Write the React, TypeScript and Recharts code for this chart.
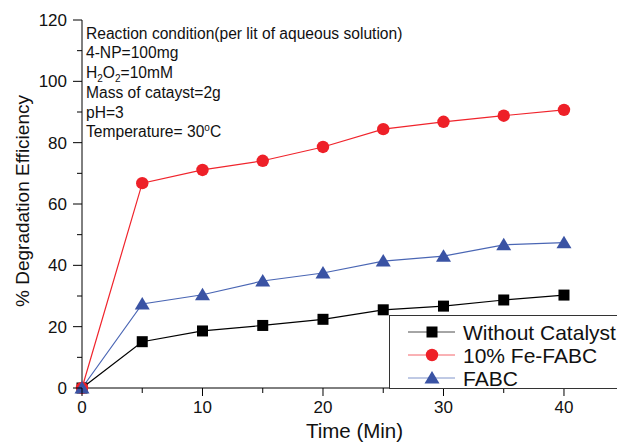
import { LineChart, Line, XAxis, YAxis, Legend, Customized } from 'recharts';

const FONT = '"Liberation Sans", Arial, sans-serif';

// time in minutes
const times = [0, 5, 10, 15, 20, 25, 30, 35, 40];
const withoutCatalyst = [0, 15.1, 18.6, 20.4, 22.4, 25.5, 26.7, 28.7, 30.3];
const feFabc = [0, 66.8, 71.1, 74.1, 78.6, 84.4, 86.8, 88.8, 90.7];
const fabc = [0, 27.4, 30.4, 34.9, 37.5, 41.4, 43.0, 46.7, 47.4];

const xTicks = [0, 5, 10, 15, 20, 25, 30, 35, 40];
const yTicks = [0, 10, 20, 30, 40, 50, 60, 70, 80, 90, 100, 110, 120];

const series = [
  { key: 'noCat', name: 'Without Catalyst', line: '#000000', fill: '#000000', shape: 'square' },
  { key: 'fe', name: '10% Fe-FABC', line: '#f0242c', fill: '#ee2028', shape: 'circle' },
  { key: 'fabc', name: 'FABC', line: '#4a66b4', fill: '#3a53a4', shape: 'triangle' },
];

const data = times.map((t, i) => ({
  time: t,
  noCat: withoutCatalyst[i],
  fe: feFabc[i],
  fabc: fabc[i],
}));

function Marker({ shape, cx, cy, fill }: any) {
  if (shape === 'square') {
    return <rect x={cx - 5.5} y={cy - 5.5} width={11} height={11} fill={fill} />;
  }
  if (shape === 'circle') {
    return <circle cx={cx} cy={cy} r={6.2} fill={fill} />;
  }
  return (
    <polygon
      points={`${cx},${cy - 7} ${cx - 7.5},${cy + 5.5} ${cx + 7.5},${cy + 5.5}`}
      fill={fill}
    />
  );
}

const BottomTick = ({ x, y, payload }: any) => {
  const major = payload.value % 10 === 0;
  return (
    <g>
      <line x1={x} x2={x} y1={y} y2={y + (major ? 8 : 5)} stroke="#000" />
      {major && (
        <text x={x} y={y + 25} textAnchor="middle" fontSize={17} fontFamily={FONT} fill="#111">
          {payload.value}
        </text>
      )}
    </g>
  );
};

const TopTick = ({ x, y }: any) => (
  <line x1={x} x2={x} y1={y} y2={y + 6} stroke="#000" />
);

const LeftTick = ({ x, y, payload }: any) => {
  const major = payload.value % 20 === 0;
  return (
    <g>
      <line x1={x - (major ? 9 : 5)} x2={x} y1={y} y2={y} stroke="#000" />
      {major && (
        <text x={x - 15} y={y} dy="0.36em" textAnchor="end" fontSize={17} fontFamily={FONT} fill="#111">
          {payload.value}
        </text>
      )}
    </g>
  );
};

const Notes = () => (
  <g fontFamily={FONT} fontSize={15.6} fill="#111">
    <text x={86} y={38.5}>Reaction condition(per lit of aqueous solution)</text>
    <text x={86} y={58}>4-NP=100mg</text>
    <text x={86} y={78}>
      H<tspan fontSize={10} dy={4}>2</tspan>
      <tspan dy={-4}>O</tspan>
      <tspan fontSize={10} dy={4}>2</tspan>
      <tspan dy={-4}>=10mM</tspan>
    </text>
    <text x={86} y={98}>Mass of catayst=2g</text>
    <text x={86} y={117.5}>pH=3</text>
    <text x={86} y={137}>
      Temperature= 30<tspan fontSize={10} dy={-6}>o</tspan>
      <tspan dy={6}>C</tspan>
    </text>
  </g>
);

const LegendBox = () => (
  <svg width={240} height={74} style={{ display: 'block', overflow: 'visible' }}>
    <rect x={0.5} y={0.5} width={260} height={73} fill="#fff" stroke="#333" />
    {series.map((s, i) => {
      const cy = 17 + i * 23;
      return (
        <g key={s.key}>
          <line x1={19} x2={66} y1={cy} y2={cy} stroke={s.line} strokeOpacity={0.7} />
          <Marker shape={s.shape} cx={43} cy={cy} fill={s.fill} />
          <text x={74} y={cy} dy="0.36em" fontSize={21} fontFamily={FONT} fill="#111">
            {s.name}
          </text>
        </g>
      );
    })}
  </svg>
);

export default function App() {
  return (
    <div
      style={{
        position: 'absolute',
        left: 0,
        top: 0,
        width: 617,
        height: 442,
        overflow: 'hidden',
        background: '#fff',
      }}
    >
      <LineChart
        width={617}
        height={442}
        data={data}
        margin={{ top: 20, right: 0, left: 0, bottom: 0 }}
      >
        <XAxis
          dataKey="time"
          type="number"
          domain={[0, 44.4]}
          ticks={xTicks}
          interval={0}
          height={54}
          tickSize={0}
          tickMargin={0}
          tickLine={false}
          tick={BottomTick}
          axisLine={{ stroke: '#000' }}
          label={({ viewBox }: any) => (
            <text
              x={viewBox.x + viewBox.width / 2 + 5}
              y={viewBox.y + 49.5}
              textAnchor="middle"
              fontSize={20.5}
              fontFamily={FONT}
              fill="#111"
            >
              Time (Min)
            </text>
          )}
        />
        <XAxis
          xAxisId="top"
          orientation="top"
          dataKey="time"
          type="number"
          domain={[0, 44.4]}
          ticks={xTicks}
          interval={0}
          height={0}
          tickSize={0}
          tickMargin={0}
          tickLine={false}
          tick={TopTick}
          axisLine={{ stroke: '#000' }}
        />
        <YAxis
          type="number"
          domain={[0, 120]}
          ticks={yTicks}
          interval={0}
          width={82}
          tickSize={0}
          tickMargin={0}
          tickLine={false}
          tick={LeftTick}
          axisLine={{ stroke: '#000' }}
          label={({ viewBox }: any) => (
            <text
              transform={`translate(22, ${viewBox.y + viewBox.height / 2 - 3}) rotate(-90)`}
              textAnchor="middle"
              dominantBaseline="central"
              fontSize={19}
              fontFamily={FONT}
              fill="#111"
            >
              % Degradation Efficiency
            </text>
          )}
        />
        {series.map((s) => (
          <Line
            key={s.key}
            dataKey={s.key}
            name={s.name}
            stroke={s.line}
            strokeWidth={1.2}
            isAnimationActive={false}
            dot={(p: any) => <Marker key={`${s.key}-${p.index}`} shape={s.shape} cx={p.cx} cy={p.cy} fill={s.fill} />}
            activeDot={false}
          />
        ))}
        <Customized component={Notes} />
        <Legend
          layout="vertical"
          align="center"
          verticalAlign="middle"
          content={LegendBox}
          wrapperStyle={{ left: 389, top: 315, width: 240, height: 74 }}
        />
      </LineChart>
    </div>
  );
}
